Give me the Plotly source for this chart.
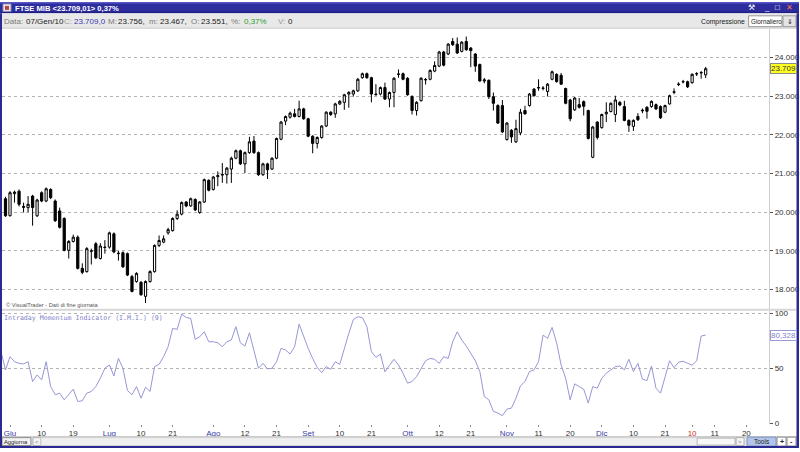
import plotly.graph_objects as go
import pandas as pd

W, H = 800, 452

# ---------------- data ----------------
opens = [20350, 19910, 20480, 20545, 20150, 20120, 20418, 19908, 20505, 20290,
         20588, 20290, 20035, 19840, 19015, 19245, 19355, 18550, 18466, 18990,
         19186, 18804, 19100, 19100, 19442, 18930, 18955, 18930, 18338, 18210,
         18190, 17827, 18210, 18466, 19143, 19228, 19467, 19525, 19840, 19950,
         20265, 20163, 20330, 19994, 20264, 20825, 20590, 20920, 20960, 20970,
         21116, 21396, 21590, 21250, 21540, 21838, 21540, 20970, 21250, 21116,
         21396, 21888, 22355, 22457, 22543, 22475, 22671, 22416, 21965, 21779,
         21932, 22228, 22585, 22543, 22799, 22840, 23054, 23054, 23138, 23477,
         23580, 23477, 23054, 23054, 23222, 22926, 23095, 23564, 23580, 23462,
         22993, 22628, 22883, 23418, 23436, 23648, 23776, 24140, 24089, 24413,
         24344, 24158, 24413, 24242, 24089, 23819, 23390, 23410, 22985, 22756,
         22756, 21880, 22118, 21820, 22050, 22628, 22756, 23181, 23210, 23200,
         23120, 23436, 23564, 23538, 23197, 22901, 22646, 22781, 22858, 22628,
         21422, 22330, 22186, 22543, 22603, 22526, 22840, 22730, 22373, 22220,
         22475, 22620, 22712, 22730, 22781, 22730, 22585, 22799, 23100, 23300,
         23370, 23375, 23350, 23575, 23600, 23551]
highs = [20400, 20545, 20560, 20588, 20250, 20418, 20450, 20350, 20540, 20640,
         20620, 20330, 20120, 19870, 19280, 19420, 19400, 18680, 19100, 19060,
         19230, 19200, 19280, 19500, 19480, 19000, 18990, 18960, 18380, 18450,
         18220, 18240, 18500, 19170, 19400, 19400, 19600, 19870, 20050, 20280,
         20290, 20380, 20360, 20290, 20870, 20850, 20940, 21055, 21270, 21170,
         21437, 21620, 21620, 21570, 21950, 21970, 21570, 21280, 21280, 21420,
         21930, 22360, 22500, 22600, 22671, 22883, 22700, 22440, 21990, 21960,
         22250, 22610, 22610, 22830, 22900, 23060, 23130, 23170, 23470, 23610,
         23610, 23500, 23309, 23250, 23350, 23120, 23490, 23690, 23610, 23490,
         23020, 22870, 23490, 23470, 23690, 23900, 24170, 24170, 24370, 24500,
         24515, 24420, 24540, 24270, 24110, 23840, 23470, 23430, 23095, 22790,
         22900, 22330, 22150, 22390, 22671, 22750, 23080, 23210, 23436, 23260,
         23340, 23660, 23590, 23600, 23220, 22930, 22980, 22952, 22890, 22650,
         22230, 22350, 22550, 22840, 22840, 23011, 22870, 22880, 22400, 22400,
         22560, 22680, 22740, 22890, 22810, 22760, 22780, 23040, 23200, 23360,
         23420, 23400, 23590, 23620, 23650, 23756]
lows = [19880, 19890, 20250, 20150, 19994, 20002, 19653, 19880, 20260, 20260,
        20340, 19750, 19580, 18990, 18804, 19220, 18520, 18400, 18440, 18650,
        18790, 18780, 18930, 19060, 18940, 18750, 18560, 18350, 17930, 18180,
        17840, 17655, 18180, 18440, 19100, 19200, 19420, 19500, 19800, 19920,
        20130, 20140, 20030, 19960, 20240, 20540, 20560, 20672, 20760, 20740,
        20758, 21370, 21220, 21015, 21510, 21510, 20940, 20940, 20860, 21090,
        21370, 21860, 22250, 22420, 22450, 22450, 22390, 21940, 21524, 21650,
        21900, 22200, 22490, 22440, 22770, 22646, 22700, 22990, 23110, 23450,
        23450, 22840, 23011, 23020, 22900, 22713, 22713, 23477, 23410, 23010,
        22526, 22500, 22860, 23300, 23410, 23620, 23750, 23770, 24060, 24300,
        24090, 24130, 24170, 23750, 23630, 23370, 23330, 22926, 22628, 22280,
        22050, 21850, 21795, 21790, 21990, 22520, 22730, 22990, 23138, 23150,
        22990, 23410, 23350, 23300, 22790, 22350, 22620, 22680, 22500, 21880,
        21396, 21880, 22160, 22330, 22580, 22330, 22740, 22350, 22075, 22100,
        22360, 22560, 22420, 22700, 22640, 22410, 22560, 22780, 23050, 23260,
        23330, 23210, 23320, 23520, 23450, 23467]
closes = [19910, 20505, 20520, 20206, 20130, 20206, 20122, 20316, 20290, 20607,
          20377, 19780, 19610, 19015, 19245, 19355, 18550, 18447, 19060, 19000,
          18822, 19127, 19090, 19467, 18975, 18940, 18590, 18377, 17955, 18420,
          17870, 18210, 18466, 19143, 19270, 19313, 19550, 19840, 19950, 20250,
          20163, 20350, 20060, 20265, 20843, 20570, 20910, 20945, 20975, 21140,
          21396, 21590, 21251, 21540, 21820, 21540, 20970, 21250, 21098, 21396,
          21906, 22330, 22475, 22560, 22475, 22671, 22416, 21965, 21779, 21932,
          22228, 22585, 22526, 22799, 22865, 23036, 23095, 23138, 23436, 23580,
          23477, 23054, 23040, 23222, 22926, 23095, 23462, 23570, 23436, 23036,
          22628, 22840, 23462, 23430, 23666, 23793, 24140, 23801, 24344, 24329,
          24115, 24395, 24200, 24176, 23776, 23393, 23420, 22985, 22815, 22304,
          22075, 22304, 21947, 22161, 22585, 22543, 23054, 23011, 23222, 23207,
          23309, 23630, 23375, 23309, 22815, 22416, 22952, 22712, 22738, 21906,
          22202, 21932, 22526, 22585, 22815, 22901, 22773, 22373, 22246, 22373,
          22390, 22635, 22610, 22865, 22671, 22441, 22756, 23011, 23112, 23309,
          23375, 23240, 23564, 23580, 23610, 23709]

imi_values = [65.2, 48.5, 60.6, 56, 54.5, 54, 56, 37.9, 43.9, 39.4,
              56, 33.3, 25.8, 27.3, 21.2, 25.8, 30.9, 19.7, 20.3, 27.3,
              28.8, 33.3, 40.9, 50, 53, 43, 59, 50, 29.7, 25.8,
              33.3, 22.7, 32.7, 28.8, 51.5, 53.6, 60.6, 69.7, 86.4, 85.5,
              99.4, 96.4, 95.5, 76.4, 78.8, 83.3, 74.2, 74.2, 73.3, 69.7,
              74.2, 75.8, 88, 73.3, 70.3, 82.4, 66.7, 50, 54.5, 49.4,
              50, 56, 68.2, 66.7, 63, 69.7, 90.3, 78.8, 68.2, 59,
              50.9, 46, 51.5, 49.1, 56, 53.6, 68.2, 81.8, 94.5, 97,
              96.4, 88, 65.2, 60, 63, 46.7, 52.7, 58.2,
              53, 45.5, 36.4, 37.9, 42.4, 50, 56.9, 59, 58.2, 54.5,
              60.6, 59, 74.2, 83.3, 75.8, 70.3, 64.2, 56.9, 47, 24.2,
              21.2, 10.6, 9.1, 6.7, 12.7, 13.6, 22.7, 33.9, 37.9, 47,
              48.5, 56, 80.3, 77.3, 87.3, 73.3, 53, 40.9, 21.2, 35.8,
              33.3, 30.9, 18.2, 33.3, 31.8, 40.9, 45.5, 48.5, 51.5, 52.1,
              48.5, 58.2, 47, 54.5, 40, 38.8, 52.1, 31.8, 27.3, 41.8,
              56.9, 50.6, 55.5, 56.4, 54.5, 52.7, 56.9, 79.4, 80.328]

market_holidays = ["2009-12-24", "2009-12-25", "2009-12-31", "2010-01-01"]
tick_dates = ["2009-06-01", "2009-06-10", "2009-06-19", "2009-07-01", "2009-07-10",
              "2009-07-21", "2009-08-03", "2009-08-12", "2009-08-21", "2009-09-01",
              "2009-09-10", "2009-09-21", "2009-10-01", "2009-10-12", "2009-10-21",
              "2009-11-02", "2009-11-11", "2009-11-20", "2009-12-01", "2009-12-10",
              "2009-12-21", "2010-01-04", "2010-01-11", "2010-01-20"]
tick_labels = ["Giu", "10", "19", "Lug", "10", "21", "Ago", "12", "21", "Set",
               "10", "21", "Ott", "12", "21", "Nov", "11", "20", "Dic", "10",
               "21", "10", "11", "20"]
tick_kinds = ["m", "d", "d", "m", "d", "d", "m", "d", "d", "m",
              "d", "d", "m", "d", "d", "m", "d", "d", "m", "d",
              "d", "y", "d", "d"]
price_ticks = [18000, 19000, 20000, 21000, 22000, 23000, 24000]
imi_ticks = [0, 50, 100]
last_close_label = "23.709"
last_imi_label = "80,328"

# ---------------- trading calendar -> x positions ----------------
days = [d for d in pd.bdate_range("2009-05-28", "2010-01-29")
        if d.strftime("%Y-%m-%d") not in market_holidays]
pos = {d.strftime("%Y-%m-%d"): k - 1 for k, d in enumerate(days)}
day_keys = [d.strftime("%Y-%m-%d") for d in days]
cand_x = [pos[k] for k in day_keys[1:1 + len(closes)]]
imi_x = [pos[k] for k in day_keys[0:len(imi_values)]]
tick_x = [pos[d] for d in tick_dates]
kind_color = {"m": "#3b3ba8", "d": "#333333", "y": "#c83030"}
tick_text = ['<span style="color:%s">%s</span>' % (kind_color[k], t)
             for t, k in zip(tick_labels, tick_kinds)]


def px(x):
    return x / W


def py(y):
    return 1 - y / H


# pixel geometry
X0, X1 = 2, 770
STEP, X_FIRST = 4.523, 5.5
xr = [(X0 - X_FIRST) / STEP, (X1 - X_FIRST) / STEP]
P_PER_PX = 1 / 0.03922
Y24 = 56.2
MAIN_TOP, MAIN_BOT = 27, 311
yr = [24000 - (MAIN_BOT - Y24) * P_PER_PX, 24000 + (Y24 - MAIN_TOP) * P_PER_PX]
IMI_TOP, IMI_BOT, IMI_ZERO, IMI_PX = 313, 427.3, 426.7, 1.11
yr2 = [(IMI_ZERO - IMI_BOT) / IMI_PX, (IMI_ZERO - IMI_TOP) / IMI_PX]

fig = go.Figure()
fig.add_trace(go.Candlestick(
    x=cand_x, open=opens, high=highs, low=lows, close=closes,
    increasing=dict(line=dict(color="#000000", width=1), fillcolor="#ffffff"),
    decreasing=dict(line=dict(color="#000000", width=1), fillcolor="#000000"),
    whiskerwidth=0, showlegend=False, hoverinfo="skip",
    xaxis="x", yaxis="y"))
fig.add_trace(go.Scatter(
    x=imi_x, y=imi_values, mode="lines",
    line=dict(color="#9696d6", width=1),
    showlegend=False, hoverinfo="skip", xaxis="x2", yaxis="y2"))

axis_font = dict(family="Liberation Sans", size=8, color="#333333")
fig.update_layout(
    width=W, height=H, margin=dict(l=0, r=0, t=0, b=0),
    paper_bgcolor="#ffffff", plot_bgcolor="#ffffff",
    separators=",.", showlegend=False, hovermode=False,
    xaxis=dict(domain=[px(X0), px(X1)], range=xr, anchor="y",
               showticklabels=False, showgrid=False, zeroline=False,
               showline=False, ticks="", rangeslider=dict(visible=False),
               fixedrange=True),
    yaxis=dict(domain=[py(MAIN_BOT), py(MAIN_TOP)], range=yr, anchor="x",
               side="right", tickvals=price_ticks, tickformat=",d",
               ticks="outside", ticklen=3, tickcolor="#555555",
               tickfont=axis_font, showgrid=True, gridcolor="#b4b4b4",
               griddash="dot", gridwidth=1, zeroline=False,
               showline=True, linecolor="#cfcfcf", linewidth=1,
               fixedrange=True),
    xaxis2=dict(domain=[px(X0), px(X1)], range=xr, anchor="y2", matches="x",
                tickvals=tick_x, ticktext=tick_text, ticks="outside",
                ticklen=2, tickcolor="#888888", tickfont=axis_font,
                showgrid=False, zeroline=False, showline=False,
                fixedrange=True),
    yaxis2=dict(domain=[py(IMI_BOT), py(IMI_TOP)], range=yr2, anchor="x2",
                side="right", tickvals=imi_ticks,
                ticktext=[str(v) for v in imi_ticks],
                ticks="outside", ticklen=3, tickcolor="#555555",
                tickfont=axis_font, showgrid=True, gridcolor="#b4b4b4",
                griddash="dot", gridwidth=1, zeroline=False,
                showline=True, linecolor="#cfcfcf", linewidth=1,
                fixedrange=True),
)

shapes = []
annots = []


def rect(x0, y0, x1, y1, fill, line=None, lw=1):
    shapes.append(dict(type="rect", xref="paper", yref="paper",
                       x0=px(x0), x1=px(x1), y0=py(y1), y1=py(y0),
                       fillcolor=fill,
                       line=dict(color=line or fill, width=lw if line else 0),
                       layer="above"))


def text(x, y, s, size=8, color="#222222", family="Liberation Sans",
         anchor="left", **kw):
    annots.append(dict(xref="paper", yref="paper", x=px(x), y=py(y), text=s,
                       showarrow=False, xanchor=anchor, yanchor="middle",
                       font=dict(family=family, size=size, color=color),
                       borderpad=0, **kw))


# title bar
rect(0, 0, 800, 11.5, "#2d2d9e")
rect(0, 0, 800, 1.5, "#5656c4")
rect(0, 10, 800, 11.5, "#1e1e84")
rect(3, 2, 11, 9.5, "#e8e8f0", "#9090b0")
rect(5, 4, 9, 8, "#c04040")
text(14, 6.3, "<b>FTSE MIB &lt;23.709,01&gt; 0,37%</b>", size=7.6, color="#ffffff")
text(752, 6, "⚒", size=7.5, color="#ffffff", anchor="center")
text(768, 6, "_", size=8, color="#ffffff", anchor="center")
text(778, 6, "□", size=8, color="#ffffff", anchor="center")
text(790, 6, "✕", size=8, color="#ff7a40", anchor="center")

# info bar
rect(0, 11.5, 800, 26.5, "#e8e8e8")
rect(0, 26, 800, 26.8, "#bdbdbd")
info_text = ["Data:", "07/Gen/10", "C:", "23.709,0", "M:", "23.756,", "m:",
             "23.467,", "O:", "23.551,", "%:", "0,37%", "V:", "0"]
info_x = [3, 25, 63, 73, 107, 117, 148, 159, 190, 200, 230, 243, 277, 287]
info_col = ["#7a7a7a", "#222222", "#9a9a9a", "#3a3ab0", "#7a7a7a", "#222222",
            "#7a7a7a", "#222222", "#7a7a7a", "#222222", "#7a7a7a", "#2f9f2f",
            "#9a9a9a", "#222222"]
for s, x, c in zip(info_text, info_x, info_col):
    text(x, 19.5, s, size=8, color=c)
text(747, 19.8, "Compressione", size=6.8, color="#222222", anchor="right")
rect(749.5, 14, 783, 25, "#ffffff", "#9a9a9a")
text(751, 19.5, "Giornaliero", size=6.3, color="#222222")
rect(784, 14, 797, 25, "#e4e4e4", "#9a9a9a")
text(790.5, 19.5, "⇓", size=7, color="#222222", anchor="center")

# panel separator
rect(2, 311, 797, 313, "#d6d6d6")

# captions
text(5, 307.3, "© VisualTrader - Dati di fine giornata", size=5.7, color="#555555")
text(3, 320.3, "Intraday Momentum Indicator (I.M.I.) (9)", size=6.6,
     color="#8282c8", family="DejaVu Sans Mono")

# last-value tags
annots.append(dict(xref="paper", yref="y", x=px(771), y=closes[-1],
                   text=last_close_label, showarrow=False, xanchor="left",
                   yanchor="middle", bgcolor="#ffff20", bordercolor="#8a8a8a",
                   borderwidth=1, borderpad=0,
                   font=dict(family="Liberation Sans", size=8, color="#333333")))
annots.append(dict(xref="paper", yref="y2", x=px(771), y=imi_values[-1],
                   text=last_imi_label, showarrow=False, xanchor="left",
                   yanchor="middle", bgcolor="#ffffff", bordercolor="#9a9ad6",
                   borderwidth=1, borderpad=0,
                   font=dict(family="Liberation Sans", size=8, color="#8282c8")))

# bottom bar
rect(0, 440.5, 800, 452, "#e6e6e6")
rect(0, 440, 800, 440.8, "#bdbdbd")
rect(2, 441.5, 31, 449.5, "#f2f2f2", "#8c8c8c")
text(16.5, 445.5, "Aggiorna", size=5.8, color="#222222", anchor="center")
rect(33, 441.5, 41, 449.5, "#f4f4f4", "#b0b0b0")
text(37, 445.5, "&lt;", size=6, color="#777777", anchor="center")
rect(41, 441.5, 737, 449.5, "#efefef", "#d0d0d0")
rect(698, 442, 736, 449, "#f8f8f8", "#b8b8b8")
rect(737, 441.5, 745, 449.5, "#f4f4f4", "#b0b0b0")
text(741, 445.5, "&gt;", size=6, color="#777777", anchor="center")
rect(748, 441, 777, 450, "#b3c6ea", "#7d93c4")
text(762.5, 445.5, "Tools", size=6.5, color="#222222", anchor="center")
rect(778, 441, 787, 450, "#ffffff", "#8c8c8c")
text(782.5, 445.5, "<b>+</b>", size=7, color="#222222", anchor="center")
rect(788, 441, 797, 450, "#ffffff", "#8c8c8c")
text(792.5, 445.5, "<b>-</b>", size=7, color="#222222", anchor="center")

# window frame
rect(0, 11.5, 2, 452, "#2a2a90")
rect(797.5, 11.5, 800, 452, "#2a2a90")
rect(0, 450, 800, 452, "#2a2a90")

fig.update_layout(shapes=shapes, annotations=annots)
fig.write_html("out.html", config={"displayModeBar": False},
               post_script="document.body.style.margin='0';"
                           "document.body.style.overflow='hidden';")
